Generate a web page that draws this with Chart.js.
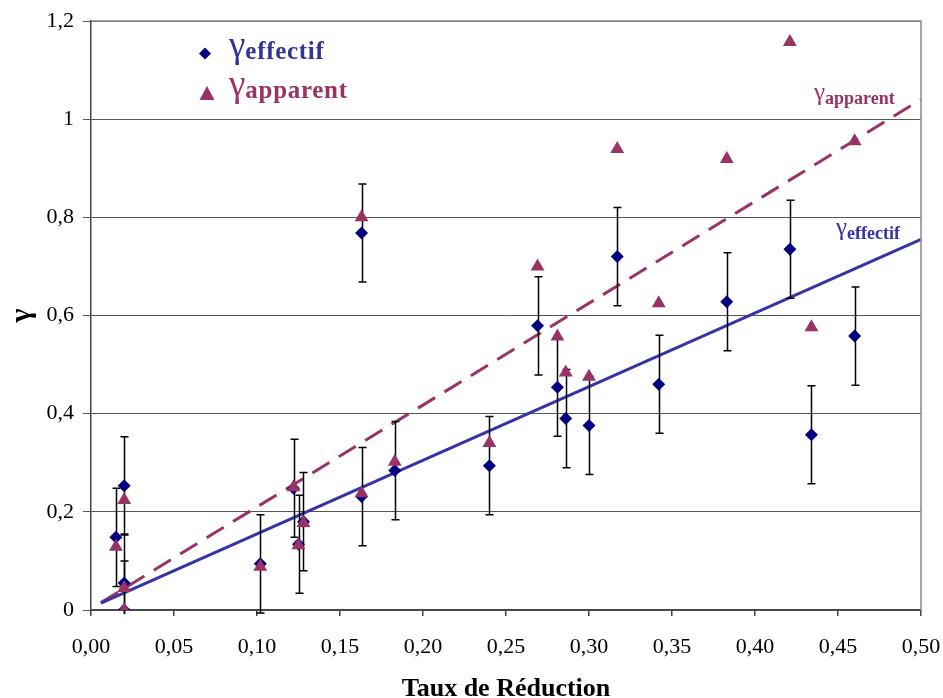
<!DOCTYPE html>
<html>
<head>
<meta charset="utf-8">
<script src="https://cdn.jsdelivr.net/npm/chart.js@4.4.1/dist/chart.umd.min.js"></script>
<style>
  html, body { margin: 0; padding: 0; background: #fff; }
  #wrap { width: 943px; height: 698px; }
</style>
</head>
<body>
<div id="wrap"><canvas id="myCanvas"></canvas></div>
<script>
// taux de reduction for each sample
const tauxReduction = [0.015, 0.020, 0.020, 0.020, 0.102, 0.122, 0.125, 0.128, 0.163, 0.163, 0.183,
                       0.240, 0.269, 0.281, 0.286, 0.300, 0.317, 0.342, 0.383, 0.421, 0.434, 0.460];
const gammaEffectif = [0.148, 0.253, 0.055, 0.000, 0.094, 0.248, 0.134, 0.180, 0.231, 0.768, 0.284,
                       0.294, 0.579, 0.454, 0.390, 0.376, 0.720, 0.460, 0.628, 0.735, 0.357, 0.558];
const gammaApparent = [0.129, 0.224, 0.045, 0.000, 0.088, 0.250, 0.132, 0.177, 0.238, 0.800, 0.302,
                       0.340, 0.700, 0.557, 0.484, 0.475, 0.939, 0.625, 0.919, 1.157, 0.576, 0.955];
const erreurEffectif = [0.1, 0.1, 0.1, 0.1, 0.1, 0.1, 0.1, 0.1, 0.1, 0.1, 0.1,
                        0.1, 0.1, 0.1, 0.1, 0.1, 0.1, 0.1, 0.1, 0.1, 0.1, 0.1];

// linear trend lines (end points)
const trendX = [0.006, 0.5];
const trendEffectif = [0.014, 0.755];
const trendApparent = [0.015, 1.040];

const serif = "'Liberation Serif', 'Times New Roman', serif";
const BLUE = '#000080';
const LINEBLUE = '#3434A4';
const PLUM = '#993366';

const pts = (xs, ys) => xs.map((v, i) => ({ x: v, y: ys[i] }));

const fmtX = v => v.toFixed(2).replace('.', ',');
const fmtY = v => String(Math.round(v * 10) / 10).replace('.', ',');

// draws "γ" + bold word
function gammaLabel(ctx, x, yG, yW, gSize, wSize, spacing, word, color) {
  ctx.fillStyle = color;
  ctx.textBaseline = 'alphabetic';
  ctx.textAlign = 'left';
  ctx.font = gSize + 'px ' + serif;
  ctx.letterSpacing = '0px';
  ctx.fillText('γ', x, yG);
  const gw = ctx.measureText('γ').width;
  ctx.font = 'bold ' + wSize + 'px ' + serif;
  ctx.letterSpacing = spacing + 'px';
  ctx.fillText(word, x + gw, yW);
  ctx.letterSpacing = '0px';
}

const extras = {
  id: 'extras',
  beforeDatasetDraw(chart, args) {
    if (args.index !== 2) return;
    const { ctx, chartArea: a, scales: { x, y } } = chart;
    ctx.save();
    ctx.beginPath();
    ctx.rect(a.left, a.top, a.width, a.height + 4);
    ctx.clip();
    ctx.strokeStyle = '#000';
    ctx.lineWidth = 1.5;
    tauxReduction.forEach((v, i) => {
      const px = Math.round(x.getPixelForValue(v)) + 0.5;
      const top = y.getPixelForValue(gammaEffectif[i] + erreurEffectif[i]);
      const bot = y.getPixelForValue(gammaEffectif[i] - erreurEffectif[i]);
      ctx.beginPath();
      ctx.moveTo(px, top); ctx.lineTo(px, bot);
      ctx.moveTo(px - 4, top); ctx.lineTo(px + 4, top);
      ctx.moveTo(px - 4, bot); ctx.lineTo(px + 4, bot);
      ctx.stroke();
    });
    ctx.restore();
  },
  afterDraw(chart) {
    const { ctx, chartArea: a } = chart;
    ctx.save();
    // top and right frame
    ctx.strokeStyle = '#8a8a8a';
    ctx.lineWidth = 1.5;
    ctx.beginPath();
    ctx.moveTo(a.left, a.top);
    ctx.lineTo(a.right, a.top);
    ctx.lineTo(a.right, a.bottom);
    ctx.stroke();

    // legend
    ctx.fillStyle = BLUE;
    ctx.beginPath();
    ctx.moveTo(205, 47.5); ctx.lineTo(211, 53.5); ctx.lineTo(205, 59.5); ctx.lineTo(199, 53.5);
    ctx.closePath(); ctx.fill();
    gammaLabel(ctx, 229, 57, 59, 37, 25, 0.7, 'effectif', '#333399');

    ctx.fillStyle = PLUM;
    ctx.beginPath();
    ctx.moveTo(207, 86); ctx.lineTo(214.5, 100); ctx.lineTo(199.5, 100);
    ctx.closePath(); ctx.fill();
    gammaLabel(ctx, 229, 96, 98, 37, 25, 0.7, 'apparent', PLUM);

    // trend line labels
    gammaLabel(ctx, 814, 100, 104, 25, 18, 0, 'apparent', PLUM);
    gammaLabel(ctx, 836, 235, 239, 25, 18, 0, 'effectif', LINEBLUE);
    ctx.restore();
  }
};

const data = {
  datasets: [
    {
      type: 'line',
      data: pts(trendX, trendApparent),
      borderColor: PLUM,
      borderWidth: 3,
      borderDash: [20, 11],
      pointRadius: 0,
      order: 4,
    },
    {
      type: 'line',
      data: pts(trendX, trendEffectif),
      borderColor: LINEBLUE,
      borderWidth: 3,
      pointRadius: 0,
      order: 3,
    },
    {
      label: 'γeffectif',
      data: pts(tauxReduction, gammaEffectif),
      pointStyle: 'rectRot',
      pointRadius: 6.5,
      backgroundColor: BLUE,
      borderColor: BLUE,
      borderWidth: 0,
      order: 2,
    },
    {
      label: 'γapparent',
      data: pts(tauxReduction, gammaApparent),
      pointStyle: 'triangle',
      pointRadius: 8,
      backgroundColor: PLUM,
      borderColor: PLUM,
      borderWidth: 0,
      order: 1,
    },
  ]
};

const configurationOptions = {
  type: 'scatter',
  data: data,
  plugins: [extras],
  options: {
    responsive: true,
    maintainAspectRatio: false,
    animation: false,
    layout: { padding: { top: 21, right: 22, left: 0, bottom: 0 } },
    plugins: {
      legend: { display: false },
      tooltip: { enabled: false },
    },
    scales: {
      x: {
        type: 'linear',
        min: 0,
        max: 0.5,
        afterFit: s => { s.height = 88; s.paddingLeft = 0; s.paddingRight = 0; },
        border: { display: true, color: '#444', width: 1.5 },
        grid: { drawOnChartArea: false, drawTicks: true, tickLength: 6, color: '#444', lineWidth: 1.5 },
        ticks: {
          stepSize: 0.05,
          callback: v => fmtX(v),
          color: '#000',
          padding: 18,
          maxRotation: 0,
          font: { family: serif, size: 22 },
        },
        title: {
          display: true,
          text: 'Taux de Réduction',
          color: '#000',
          padding: { top: 0, bottom: -4 },
          font: { family: serif, size: 26, weight: 'bold', lineHeight: 1 },
        },
      },
      y: {
        min: 0,
        max: 1.2,
        afterFit: s => { s.width = 91; s.paddingTop = 0; s.paddingBottom = 0; },
        border: { display: true, color: '#444', width: 1.5 },
        grid: { color: '#555', lineWidth: 1, tickLength: 8 },
        ticks: {
          stepSize: 0.2,
          callback: v => fmtY(v),
          color: '#000',
          padding: 9,
          font: { family: serif, size: 22 },
        },
        title: {
          display: true,
          text: 'γ',
          color: '#000',
          padding: { top: 7, bottom: 0 },
          font: { family: serif, size: 30, weight: 'bold', lineHeight: 1 },
        },
      }
    }
  }
};

const ctx = document.getElementById("myCanvas");
const myChart = new Chart(ctx, configurationOptions);
</script>
</body>
</html>
